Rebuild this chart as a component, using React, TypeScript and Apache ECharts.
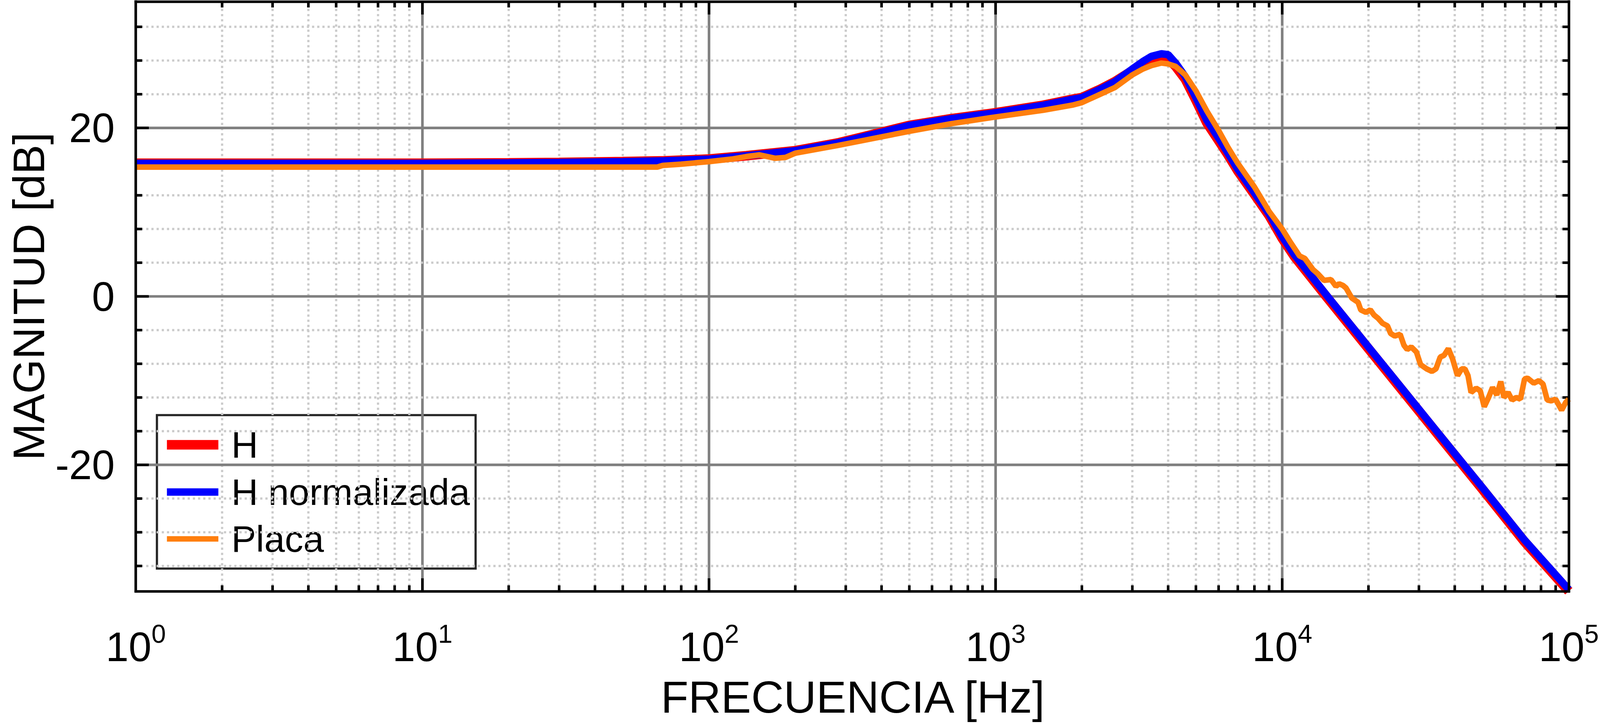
import React, { useEffect, useRef } from "react";
import * as echarts from "echarts";

const FONT = '"Liberation Sans", Arial, Helvetica, sans-serif';

// ---- data ----
const freqH = [1, 10, 20, 30, 50, 70, 100, 135, 200, 280, 350, 500, 700, 1000, 1470, 1850, 2000, 2320, 2610, 3000, 3270, 3500, 3790, 4000, 4250, 4590, 5000, 5460, 6000, 6470, 7000, 8000, 9000, 10000, 11000, 14400, 20000, 30000, 34400, 50000, 70000, 100000];
const magH = [15.8, 15.8, 15.85, 15.9, 16.0, 16.1, 16.3, 16.7, 17.3, 18.2, 19.0, 20.3, 21.1, 21.8, 22.7, 23.4, 23.6, 24.6, 25.5, 26.8, 27.5, 27.95, 28.3, 28.2, 27.3, 25.8, 23.3, 20.6, 18.5, 16.8, 14.9, 12.1, 9.6, 6.9, 4.8, -0.2, -6.2, -13.6, -16.1, -22.9, -29.1, -35.0];
const magHnorm = [15.8, 15.8, 15.85, 15.9, 16.0, 16.1, 16.3, 16.7, 17.3, 18.2, 19.0, 20.3, 21.1, 21.8, 22.7, 23.4, 23.6, 24.6, 25.5, 27.0, 27.9, 28.5, 28.8, 28.7, 27.7, 26.1, 23.6, 20.9, 18.8, 17.0, 15.1, 12.3, 9.8, 7.1, 5.0, 0.0, -6.0, -13.4, -15.9, -22.7, -28.9, -34.8];

const freqPlaca = [1, 10, 30, 50, 66, 69, 80, 100, 120, 135, 150, 170, 185, 200, 280, 350, 500, 700, 1000, 1470, 1850, 2000, 2320, 2610, 3000, 3270, 3500, 3790, 4000, 4250, 4590, 5000, 5460, 6000, 6470, 7000, 8000, 9000, 10000, 10700, 11500, 12000, 12800, 13300, 14000, 14800, 15400, 15800, 16300, 16700, 17500, 18400, 18800, 19600, 20300, 20900, 21600, 22400, 23300, 23900, 24700, 25800, 26600, 27300, 28200, 29400, 30400, 31900, 33300, 34400, 35600, 36700, 38000, 39300, 40900, 42300, 43400, 44500, 45600, 47500, 49100, 50700, 52500, 54200, 56100, 57900, 59400, 61400, 63400, 65600, 67800, 70100, 71800, 75500, 78700, 81300, 84100, 86900, 89900, 94400, 97500, 100000];
const magPlaca = [15.35, 15.35, 15.35, 15.35, 15.35, 15.55, 15.7, 16.0, 16.3, 16.6, 16.8, 16.4, 16.5, 17.0, 17.9, 18.55, 19.6, 20.5, 21.3, 22.1, 22.7, 23.0, 24.0, 24.8, 26.3, 27.0, 27.4, 27.7, 27.6, 27.3, 26.3, 24.4, 22.0, 19.7, 17.7, 15.8, 13.0, 10.1, 8.0, 6.4, 4.8, 4.5, 3.2, 2.7, 1.9, 2.0, 1.2, 1.5, 1.3, 1.0, -0.2, -0.7, -1.6, -1.9, -1.6, -2.2, -2.6, -3.2, -3.5, -4.4, -4.7, -4.5, -5.8, -6.3, -6.0, -6.6, -8.1, -8.6, -8.9, -8.6, -7.2, -7.0, -6.2, -7.4, -9.4, -8.6, -8.6, -9.4, -11.4, -10.9, -11.2, -13.1, -12.0, -10.8, -11.7, -10.1, -12.0, -11.4, -12.3, -12.0, -12.2, -9.8, -9.7, -10.3, -10.0, -10.4, -12.3, -12.4, -12.2, -13.5, -12.6, -12.2];

const seriesNames = ["H", "H normalizada", "Placa"];
const seriesColors = ["#ff0000", "#0000ff", "#ff7f0e"];
const seriesWidths = [26, 20, 15];

// ---- axes / grid values ----
const X_MIN = 1;
const X_MAX = 100000;
const Y_MIN = -35;
const Y_MAX = 35;
const xDecades = [1, 10, 100, 1000, 10000];
const xMinorSteps = [2, 3, 4, 5, 6, 7, 8, 9];
const xMajorLines = [10, 100, 1000, 10000];
const yMinorLines = [-32, -28, -24, -16, -12, -8, -4, 4, 8, 12, 16, 24, 28, 32];
const yMajorLines = [-20, 0, 20];
const yLabelValues = [-20, 0, 20];
const xTitle = "FRECUENCIA [Hz]";
const yTitle = "MAGNITUD [dB]";

// reference canvas size (layout is designed in these units, then scaled to the real viewport)
const W = 4323;
const H = 1854;

export default function App() {
  const ref = useRef<HTMLDivElement>(null);

  useEffect(() => {
    const el = ref.current;
    if (!el) return;
    const cw = el.clientWidth || W;
    const ch = el.clientHeight || H;
    const sx = cw / W;
    const sy = ch / H;
    const s = Math.min(sx, sy);
    const X = (v: number) => v * sx;
    const Y = (v: number) => v * sy;
    const S = (v: number) => v * s;

    const chart = echarts.init(el, undefined, { renderer: "svg", width: cw, height: ch });

    const minorGridStyle = { stroke: "#cbcbcb", lineWidth: S(6), lineDash: [S(6), S(8)], lineCap: "butt" };
    const majorGridStyle = { stroke: "#808080", lineWidth: S(7) };
    const tickStyle = { stroke: "#000000", lineWidth: S(7) };

    const xGridData: number[][] = [];
    xDecades.forEach((d) => xMinorSteps.forEach((m) => xGridData.push([d * m, 0, 0])));
    xMajorLines.forEach((v) => xGridData.push([v, 0, 1]));
    const yGridData: number[][] = [];
    yMinorLines.forEach((v) => yGridData.push([1, v, 0]));
    yMajorLines.forEach((v) => yGridData.push([1, v, 1]));

    const xGridRender = (params: any, api: any) => {
      const v = api.value(0);
      const major = api.value(2) === 1;
      const pb = api.coord([v, Y_MIN]);
      const pt = api.coord([v, Y_MAX]);
      const len = S(major ? 35 : 16);
      return {
        type: "group",
        children: [
          { type: "line", shape: { x1: pb[0], y1: pb[1], x2: pt[0], y2: pt[1] }, style: major ? majorGridStyle : minorGridStyle },
          { type: "line", shape: { x1: pb[0], y1: pb[1], x2: pb[0], y2: pb[1] - len }, style: tickStyle },
          { type: "line", shape: { x1: pt[0], y1: pt[1], x2: pt[0], y2: pt[1] + len }, style: tickStyle },
        ],
      };
    };

    const yGridRender = (params: any, api: any) => {
      const v = api.value(1);
      const major = api.value(2) === 1;
      const pl = api.coord([X_MIN, v]);
      const pr = api.coord([X_MAX, v]);
      const len = S(major ? 35 : 17);
      return {
        type: "group",
        children: [
          { type: "line", shape: { x1: pl[0], y1: pl[1], x2: pr[0], y2: pr[1] }, style: major ? majorGridStyle : minorGridStyle },
          { type: "line", shape: { x1: pl[0], y1: pl[1], x2: pl[0] + len, y2: pl[1] }, style: tickStyle },
          { type: "line", shape: { x1: pr[0], y1: pr[1], x2: pr[0] - len, y2: pr[1] }, style: tickStyle },
        ],
      };
    };

    const axisLineStyle = { show: true, onZero: false, lineStyle: { color: "#000000", width: S(7), cap: "square" } };

    const legendX = 424;
    const legendY = 1063;
    const legendW = 861;
    const legendH = 393;
    const rowY = [1139, 1260, 1380];

    const legendChildren: any[] = [
      {
        type: "rect",
        shape: { x: X(legendX), y: Y(legendY), width: X(legendW), height: Y(legendH) },
        style: { fill: "#ffffff", stroke: "#262626", lineWidth: S(6) },
      },
    ];
    seriesNames.forEach((name, i) => {
      legendChildren.push({
        type: "rect",
        shape: { x: X(451), y: Y(rowY[i]) - S(seriesWidths[i]) / 2, width: X(139), height: S(seriesWidths[i]) },
        style: { fill: seriesColors[i] },
      });
      legendChildren.push({
        type: "text",
        x: X(625),
        y: Y(rowY[i]),
        style: {
          text: name,
          font: `${S(100)}px ${FONT}`,
          fill: "#000000",
          align: "left",
          verticalAlign: "middle",
          textAlign: "left",
          textVerticalAlign: "middle",
        },
      });
    });

    const option: any = {
      animation: false,
      backgroundColor: "#ffffff",
      grid: { left: X(367), right: X(81), top: Y(4), bottom: Y(340), containLabel: false },
      xAxis: [
        {
          type: "log",
          logBase: 10,
          min: X_MIN,
          max: X_MAX,
          position: "bottom",
          z: 10,
          axisLine: axisLineStyle,
          axisTick: { show: false },
          splitLine: { show: false },
          minorSplitLine: { show: false },
          axisLabel: {
            show: true,
            margin: Y(76),
            showMinLabel: true,
            showMaxLabel: true,
            formatter: (v: number) => `{b|10}{s|${Math.round(Math.log10(v))}}`,
            rich: {
              b: { fontSize: S(111), fontFamily: FONT, color: "#000000", lineHeight: S(140) },
              s: { fontSize: S(70), fontFamily: FONT, color: "#000000", lineHeight: S(70), verticalAlign: "top" },
            },
          },
        },
        {
          type: "log",
          logBase: 10,
          min: X_MIN,
          max: X_MAX,
          position: "top",
          z: 10,
          axisLine: axisLineStyle,
          axisTick: { show: false },
          splitLine: { show: false },
          axisLabel: { show: false },
        },
      ],
      yAxis: [
        {
          type: "value",
          min: Y_MIN,
          max: Y_MAX,
          interval: 5,
          position: "left",
          z: 10,
          axisLine: axisLineStyle,
          axisTick: { show: false },
          splitLine: { show: false },
          axisLabel: {
            show: true,
            margin: X(57),
            fontSize: S(111),
            fontFamily: FONT,
            color: "#000000",
            showMinLabel: true,
            showMaxLabel: true,
            formatter: (v: number) => (yLabelValues.indexOf(v) >= 0 ? String(v) : ""),
          },
        },
        {
          type: "value",
          min: Y_MIN,
          max: Y_MAX,
          interval: 5,
          position: "right",
          z: 10,
          axisLine: axisLineStyle,
          axisTick: { show: false },
          splitLine: { show: false },
          axisLabel: { show: false },
        },
      ],
      series: [
        {
          type: "custom",
          name: "xgrid",
          coordinateSystem: "cartesian2d",
          xAxisIndex: 0,
          yAxisIndex: 0,
          encode: { x: 0, y: 1 },
          silent: true,
          z: 1,
          data: xGridData,
          renderItem: xGridRender,
        },
        {
          type: "custom",
          name: "ygrid",
          coordinateSystem: "cartesian2d",
          xAxisIndex: 0,
          yAxisIndex: 0,
          encode: { x: 0, y: 1 },
          silent: true,
          z: 1,
          data: yGridData,
          renderItem: yGridRender,
        },
        {
          type: "line",
          name: seriesNames[0],
          xAxisIndex: 0,
          yAxisIndex: 0,
          showSymbol: false,
          symbol: "none",
          z: 2,
          lineStyle: { color: seriesColors[0], width: S(seriesWidths[0]) },
          itemStyle: { color: seriesColors[0] },
          data: freqH.map((f, i) => [f, magH[i]]),
        },
        {
          type: "line",
          name: seriesNames[1],
          xAxisIndex: 0,
          yAxisIndex: 0,
          showSymbol: false,
          symbol: "none",
          z: 3,
          lineStyle: { color: seriesColors[1], width: S(seriesWidths[1]) },
          itemStyle: { color: seriesColors[1] },
          data: freqH.map((f, i) => [f, magHnorm[i]]),
        },
        {
          type: "line",
          name: seriesNames[2],
          xAxisIndex: 0,
          yAxisIndex: 0,
          showSymbol: false,
          symbol: "none",
          z: 4,
          lineStyle: { color: seriesColors[2], width: S(seriesWidths[2]) },
          itemStyle: { color: seriesColors[2] },
          data: freqPlaca.map((f, i) => [f, magPlaca[i]]),
        },
      ],
      graphic: [
        {
          type: "text",
          x: X(2304),
          y: Y(1784),
          z: 100,
          style: {
            text: xTitle,
            font: `${S(122)}px ${FONT}`,
            fill: "#000000",
            align: "center",
            verticalAlign: "middle",
            textAlign: "center",
            textVerticalAlign: "middle",
          },
        },
        {
          type: "text",
          x: S(78),
          y: Y(759),
          rotation: Math.PI / 2,
          z: 100,
          style: {
            text: yTitle,
            font: `${S(120)}px ${FONT}`,
            fill: "#000000",
            align: "center",
            verticalAlign: "middle",
            textAlign: "center",
            textVerticalAlign: "middle",
          },
        },
        { type: "group", z: 100, children: legendChildren },
      ],
    };

    chart.setOption(option);
    return () => chart.dispose();
  }, []);

  return (
    <div
      ref={ref}
      style={{ position: "fixed", left: 0, top: 0, width: "100vw", height: "100vh", background: "#ffffff" }}
    />
  );
}
